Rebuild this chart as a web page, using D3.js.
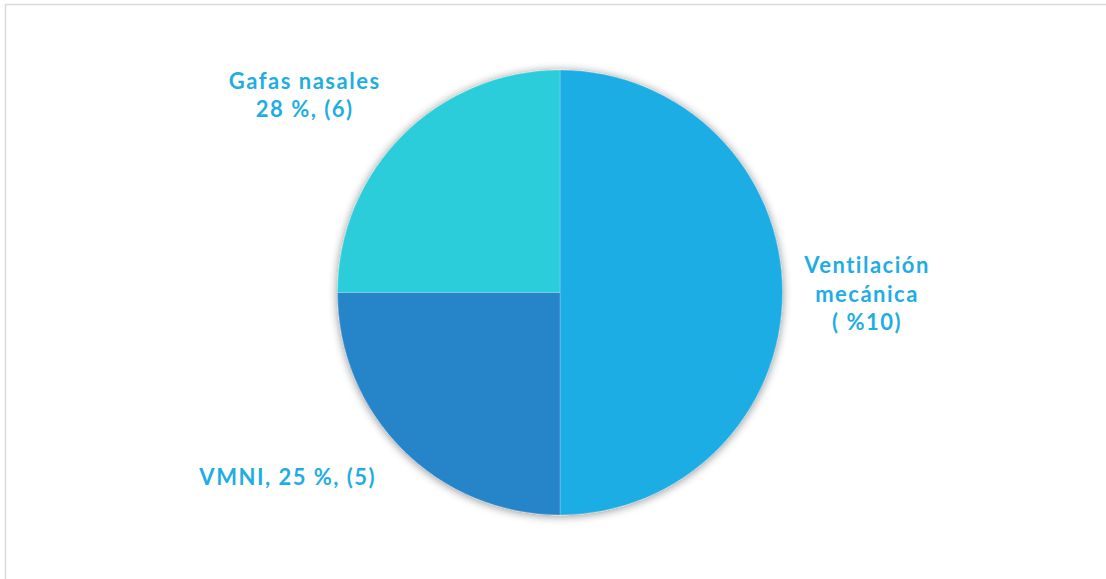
<!DOCTYPE html>
<html>
<head>
<meta charset="utf-8">
<script src="https://cdn.jsdelivr.net/npm/d3@7"></script>
<style>
  html, body { margin: 0; padding: 0; background: #fff; }
  svg { display: block; }
</style>
</head>
<body>
<svg id="chart" width="1106" height="579"></svg>
<script>
// Oxygen-support modality per patient group
const categories = ["Ventilación mecánica", "VMNI", "Gafas nasales"];
const values = [10, 5, 5];
const colors = ["#1FADE4", "#2784C8", "#29CDD9"];
// Data label lines for each slice
const labelLines = [
  ["Ventilación", "mecánica", "( %10)"],
  ["VMNI, 25 %, (5)"],
  ["Gafas nasales", "28 %, (6)"]
];

const W = 1106, H = 579;
const cx = 560, cy = 292.5, R = 222.5;

const svg = d3.select("#chart");

// chart frame
svg.append("rect")
  .attr("x", 5.5).attr("y", 4.5)
  .attr("width", W + 20).attr("height", H + 20)
  .attr("fill", "none")
  .attr("stroke", "#d9d9d9")
  .attr("stroke-width", 1.5);

// soft shadow under the pie
const defs = svg.append("defs");
const f = defs.append("filter").attr("id", "shadow")
  .attr("x", "-20%").attr("y", "-20%").attr("width", "140%").attr("height", "140%");
f.append("feGaussianBlur").attr("in", "SourceAlpha").attr("stdDeviation", 5).attr("result", "b");
f.append("feOffset").attr("in", "b").attr("dx", 0).attr("dy", 1).attr("result", "o");
f.append("feComponentTransfer").attr("in", "o").attr("result", "s")
  .append("feFuncA").attr("type", "linear").attr("slope", 0.45);
const m = f.append("feMerge");
m.append("feMergeNode").attr("in", "s");
m.append("feMergeNode").attr("in", "SourceGraphic");

const pie = d3.pie().sort(null).value(d => d);
const arc = d3.arc().innerRadius(0).outerRadius(R);
const arcs = pie(values);

const g = svg.append("g")
  .attr("transform", `translate(${cx},${cy})`)
  .attr("filter", "url(#shadow)");

g.selectAll("path")
  .data(arcs)
  .join("path")
  .attr("d", arc)
  .attr("fill", (d, i) => colors[i])
  .attr("stroke", "#ffffff")
  .attr("stroke-opacity", 0.35)
  .attr("stroke-width", 0.6);

// outside labels, placed along each slice's mid-angle, then nudged
const labelRadius = [307, 262, 277.6];
const labelShift = [[0, 2], [-87, 0], [-59, 0]];
const lineH = 28.5;

const lg = svg.append("g").attr("transform", `translate(${cx},${cy})`);
arcs.forEach((a, i) => {
  const mid = (a.startAngle + a.endAngle) / 2;
  const r = labelRadius[i];
  const x = Math.sin(mid) * r + labelShift[i][0];
  const y = -Math.cos(mid) * r + labelShift[i][1];
  const lines = labelLines[i];
  const t = lg.append("text")
    .attr("text-anchor", "middle")
    .attr("font-family", "Lato, 'Open Sans', sans-serif")
    .attr("font-weight", 700)
    .attr("font-size", 22)
    .attr("letter-spacing", 1.5)
    .attr("fill", "#1FADE4");
  const y0 = y - (lines.length - 1) * lineH / 2 + 7;
  lines.forEach((ln, k) => {
    t.append("tspan")
      .attr("x", x)
      .attr("y", y0 + k * lineH)
      .text(ln);
  });
});
</script>
</body>
</html>
